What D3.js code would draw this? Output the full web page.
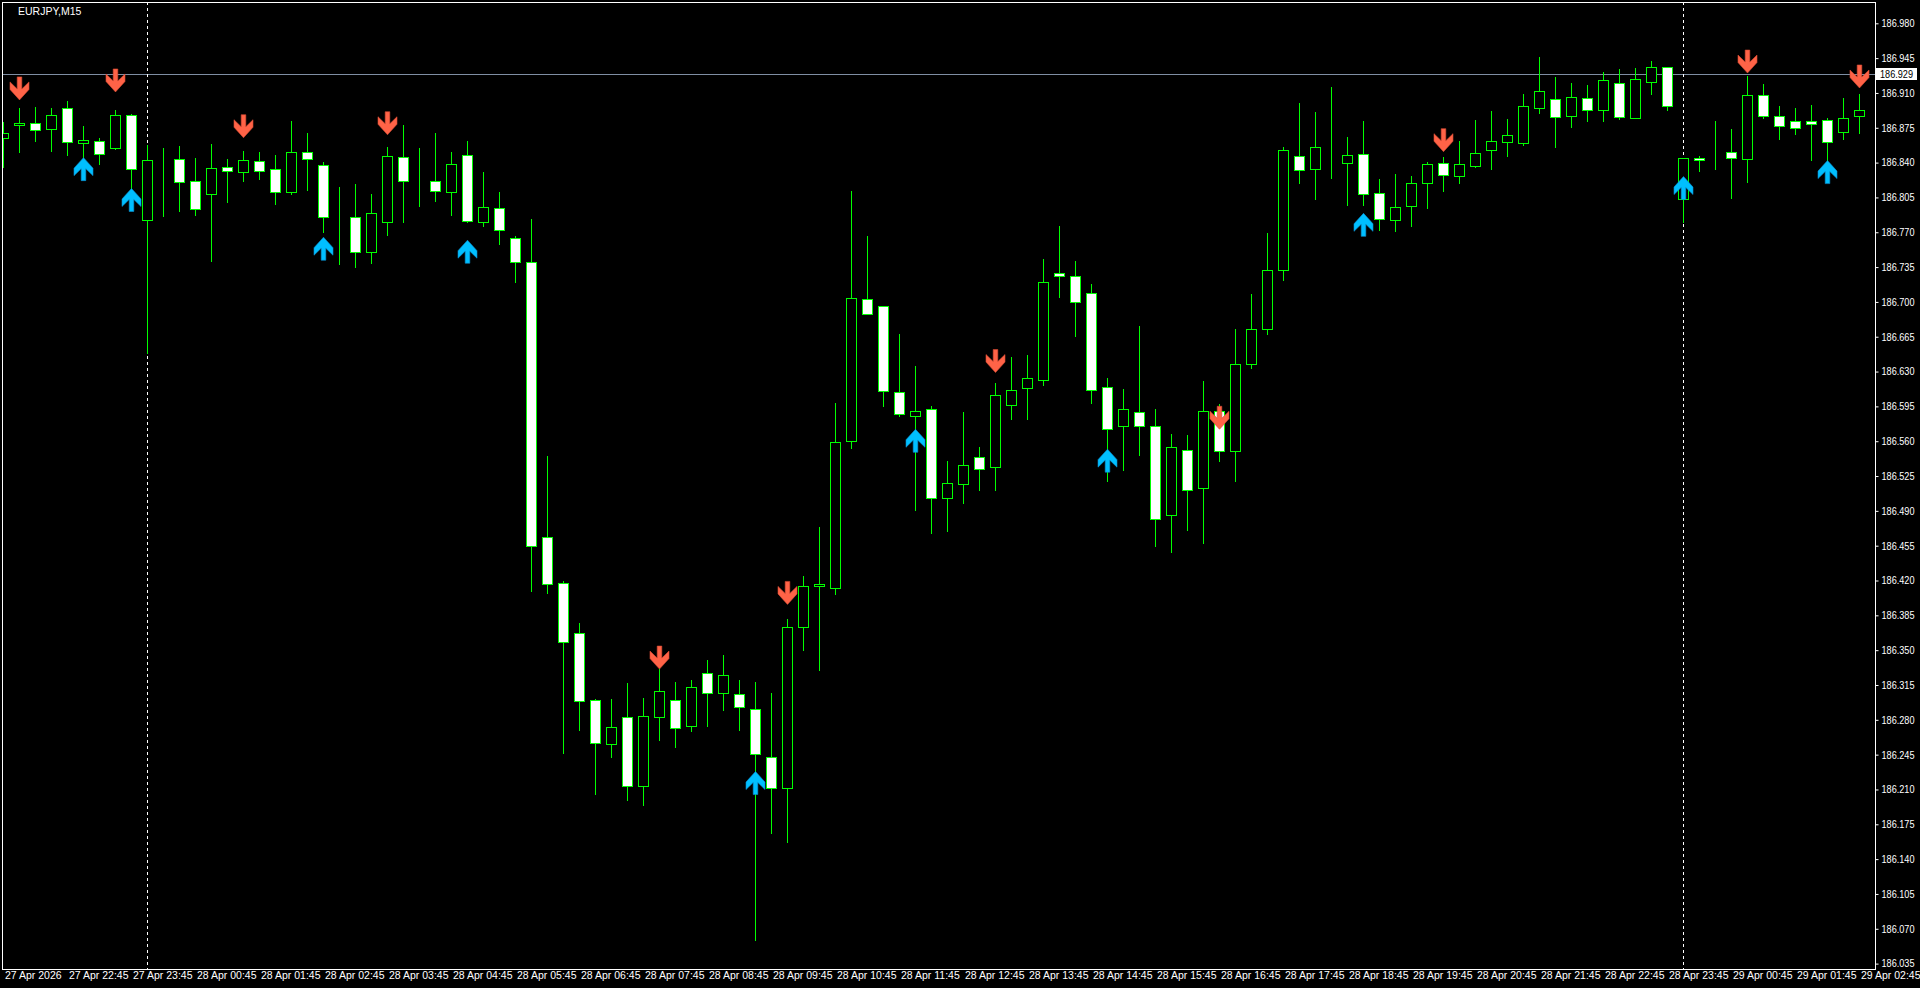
<!DOCTYPE html>
<html><head><meta charset="utf-8">
<script src="https://cdn.jsdelivr.net/npm/d3@7"></script>
<style>html,body{margin:0;padding:0;background:#000;overflow:hidden}text{font-family:"Liberation Sans",Arial,sans-serif}</style>
</head><body>
<svg id="c" width="1920" height="988"></svg>
<script>
const symbol = "EURJPY,M15";
const open = [186.865,186.878,186.880,186.874,186.895,186.860,186.862,186.855,186.888,186.782,
186.844,186.844,186.822,186.808,186.836,186.831,186.842,186.834,186.810,186.851,
186.838,186.784,186.785,186.750,186.780,186.846,186.822,186.822,186.810,186.848,
186.780,186.794,186.764,186.740,186.464,186.418,186.367,186.300,186.256,186.283,
186.213,186.283,186.300,186.274,186.327,186.307,186.306,186.291,186.243,186.211,
186.373,186.414,186.412,186.560,186.703,186.696,186.609,186.585,186.592,186.503,
186.517,186.544,186.534,186.596,186.613,186.622,186.729,186.726,186.709,186.614,
186.575,186.589,186.575,186.486,186.551,186.513,186.590,186.550,186.638,186.673,
186.732,186.847,186.834,186.843,186.840,186.849,186.809,186.782,186.796,186.820,
186.840,186.827,186.837,186.853,186.861,186.860,186.895,186.904,186.887,186.905,
186.893,186.920,186.885,186.921,186.936,186.803,186.845,186.851,186.851,186.844,
186.908,186.887,186.882,186.882,186.883,186.871,186.887];
const high = [186.881,186.895,186.896,186.895,186.902,186.877,186.865,186.893,186.889,186.858,
186.855,186.857,186.845,186.859,186.844,186.852,186.851,186.848,186.882,186.870,
186.841,186.815,186.818,186.808,186.856,186.878,186.855,186.870,186.851,186.862,
186.831,186.810,186.766,186.783,186.545,186.420,186.377,186.301,186.301,186.317,
186.302,186.331,186.318,186.320,186.340,186.345,186.320,186.318,186.307,186.381,
186.425,186.474,186.598,186.811,186.766,186.696,186.668,186.636,186.595,186.540,
186.589,186.554,186.618,186.645,186.647,186.743,186.776,186.741,186.718,186.624,
186.612,186.676,186.592,186.567,186.566,186.621,186.597,186.673,186.708,186.769,
186.856,186.900,186.891,186.916,186.866,186.882,186.824,186.829,186.827,186.841,
186.846,186.862,186.883,186.892,186.884,186.909,186.946,186.926,186.920,186.918,
186.931,186.934,186.935,186.942,186.936,186.845,186.847,186.882,186.874,186.927,
186.919,186.897,186.895,186.898,186.885,186.905,186.909];
const low = [186.836,186.851,186.862,186.852,186.848,186.836,186.839,186.854,186.810,186.649,
186.786,186.791,186.787,186.741,186.800,186.822,186.824,186.798,186.808,186.812,
186.770,186.738,186.735,186.739,186.767,186.780,186.796,186.801,186.787,186.780,
186.776,186.758,186.720,186.409,186.407,186.247,186.270,186.205,186.243,186.199,
186.194,186.260,186.253,186.269,186.274,186.290,186.270,186.059,186.166,186.157,
186.350,186.330,186.406,186.553,186.688,186.595,186.585,186.491,186.468,186.470,
186.498,186.511,186.511,186.582,186.582,186.616,186.705,186.666,186.598,186.520,
186.531,186.546,186.455,186.449,186.471,186.458,186.540,186.520,186.634,186.668,
186.722,186.820,186.803,186.825,186.797,186.797,186.772,186.771,186.776,186.794,
186.811,186.819,186.836,186.834,186.847,186.858,186.890,186.856,186.876,186.882,
186.882,186.884,186.885,186.909,186.893,186.780,186.832,186.834,186.804,186.821,
186.885,186.864,186.869,186.843,186.842,186.864,186.870];
const close = [186.870,186.880,186.873,186.888,186.861,186.863,186.849,186.888,186.834,186.843,
186.844,186.821,186.793,186.835,186.832,186.843,186.832,186.810,186.851,186.844,
186.785,186.784,186.750,186.789,186.847,186.822,186.822,186.811,186.839,186.781,
186.795,186.772,186.740,186.455,186.416,186.358,186.299,186.257,186.273,186.213,
186.284,186.309,186.272,186.313,186.307,186.325,186.293,186.246,186.211,186.373,
186.414,186.416,186.559,186.704,186.688,186.610,186.587,186.590,186.503,186.518,
186.536,186.532,186.606,186.611,186.624,186.720,186.726,186.700,186.611,186.572,
186.592,186.575,186.482,186.554,186.511,186.590,186.550,186.638,186.673,186.732,
186.853,186.833,186.856,186.843,186.848,186.808,186.783,186.795,186.820,186.839,
186.828,186.839,186.850,186.862,186.868,186.897,186.912,186.886,186.906,186.893,
186.923,186.886,186.924,186.936,186.897,186.845,186.843,186.851,186.845,186.908,
186.887,186.877,186.875,186.879,186.861,186.885,186.893];
const sellIdx = [1,7,15,24,41,49,62,76,90,109,116];
const sellPrice = [186.903,186.911,186.865,186.868,186.331,186.396,186.629,186.572,186.851,186.930,186.915];
const buyIdx = [5,8,20,29,47,57,69,85,105,114];
const buyPrice = [186.845,186.814,186.765,186.762,186.228,186.572,186.552,186.789,186.826,186.842];
const separatorIdx = [9,105];
const currentPrice = 186.929;
const priceTicks = [186.980,186.945,186.910,186.875,186.840,186.805,186.770,186.735,186.700,186.665,
186.630,186.595,186.560,186.525,186.490,186.455,186.420,186.385,186.350,186.315,186.280,186.245,
186.210,186.175,186.140,186.105,186.070,186.035];
const timeTickIdx = [0,4,8,12,16,20,24,28,32,36,40,44,48,52,56,60,64,68,72,76,80,84,88,92,96,100,104,108,112,116];
const timeTickText = ["27 Apr 2026","27 Apr 22:45","27 Apr 23:45","28 Apr 00:45","28 Apr 01:45","28 Apr 02:45",
"28 Apr 03:45","28 Apr 04:45","28 Apr 05:45","28 Apr 06:45","28 Apr 07:45","28 Apr 08:45","28 Apr 09:45",
"28 Apr 10:45","28 Apr 11:45","28 Apr 12:45","28 Apr 13:45","28 Apr 14:45","28 Apr 15:45","28 Apr 16:45",
"28 Apr 17:45","28 Apr 18:45","28 Apr 19:45","28 Apr 20:45","28 Apr 21:45","28 Apr 22:45","28 Apr 23:45",
"29 Apr 00:45","29 Apr 01:45","29 Apr 02:45"];

const L = 2, T = 2, R = 1875, B = 969;
const svg = d3.select("#c");
svg.append("rect").attr("width",1920).attr("height",988).attr("fill","#000");

const x = d3.scaleLinear().domain([0, 116]).range([3.5, 1859.5]);
const y = d3.scaleLinear().domain([186.035, 186.980]).range([963.6, 23.3]);
const ry = v => Math.round(y(v));

svg.append("clipPath").attr("id","clip").append("rect")
  .attr("x", L+1).attr("y", T+1).attr("width", R-L-1).attr("height", B-T-1);

const plot = svg.append("g").attr("clip-path","url(#clip)").attr("shape-rendering","crispEdges");

// current price line
plot.append("line").attr("x1",L).attr("x2",R)
  .attr("y1", ry(currentPrice)+0.5).attr("y2", ry(currentPrice)+0.5)
  .attr("stroke","#7f8ea3").attr("stroke-width",1);

// separators
plot.selectAll("line.sep").data(separatorIdx).join("line").attr("class","sep")
  .attr("x1", d=>Math.floor(x(d))+0.5).attr("x2", d=>Math.floor(x(d))+0.5)
  .attr("y1", T).attr("y2", B)
  .attr("stroke","#fff").attr("stroke-width",1).attr("stroke-dasharray","3,3");

const idx = d3.range(open.length);
const cg = plot.append("g");
cg.selectAll("line.wick").data(idx).join("line").attr("class","wick")
  .attr("x1", i=>Math.floor(x(i))+0.5).attr("x2", i=>Math.floor(x(i))+0.5)
  .attr("y1", i=>ry(high[i])).attr("y2", i=>ry(low[i])+1)
  .attr("stroke","#00ff00").attr("stroke-width",1);
cg.selectAll("rect.body").data(idx).join("rect").attr("class","body")
  .attr("x", i=>Math.floor(x(i))-4.5).attr("width",10)
  .attr("y", i=>ry(Math.max(open[i],close[i]))+0.5)
  .attr("height", i=>ry(Math.min(open[i],close[i]))-ry(Math.max(open[i],close[i])))
  .attr("fill", i=> close[i] < open[i] ? "#ffffff" : "#000000")
  .attr("stroke","#00ff00").attr("stroke-width",1);

// arrows
const downPts = [[-2.3,0],[2.3,0],[2.3,12],[9.5,5],[9.5,12.5],[0,23],[-9.5,12.5],[-9.5,5],[-2.3,12]];
const ag = svg.append("g");
ag.selectAll("path.sell").data(sellIdx).join("path").attr("class","sell")
  .attr("d", (d,k)=>{ const cx=Math.floor(x(d))+0.5, ty=y(sellPrice[k]);
     return "M"+downPts.map(p=>[cx+p[0], ty-23+p[1]].join(",")).join("L")+"Z"; })
  .attr("fill","#ff6347").attr("stroke","#d94a33").attr("stroke-width",0.6);
ag.selectAll("path.buy").data(buyIdx).join("path").attr("class","buy")
  .attr("d", (d,k)=>{ const cx=Math.floor(x(d))+0.5, ty=y(buyPrice[k]);
     return "M"+downPts.map(p=>[cx+p[0], ty+23-p[1]].join(",")).join("L")+"Z"; })
  .attr("fill","#00bfff").attr("stroke","#0a8fd0").attr("stroke-width",0.6);

// frame
svg.append("rect").attr("x",L+0.5).attr("y",T+0.5).attr("width",R-L).attr("height",B-T)
  .attr("fill","none").attr("stroke","#fff").attr("stroke-width",1).attr("shape-rendering","crispEdges");

// price axis
const ya = svg.append("g").attr("transform",`translate(${R+0.5},0)`)
  .call(d3.axisRight(y).tickValues(priceTicks).tickFormat(d3.format(".3f")).tickSize(3).tickPadding(3));
ya.select(".domain").remove();
ya.selectAll(".tick line").attr("stroke","#fff");
ya.selectAll(".tick text").attr("fill","#fff").attr("font-size","10.5px")
  .attr("textLength",33).attr("lengthAdjust","spacingAndGlyphs");

// current price label
const cpY = ry(currentPrice);
svg.append("rect").attr("x",R+1).attr("y",cpY-6).attr("width",41).attr("height",12).attr("fill","#fff");
svg.append("text").attr("x",R+5).attr("y",cpY+4).attr("fill","#000").attr("font-size","10.5px")
  .attr("textLength",33).attr("lengthAdjust","spacingAndGlyphs").text(d3.format(".3f")(currentPrice));

// time axis
const xa = svg.append("g").attr("transform",`translate(0,${B+0.5})`)
  .call(d3.axisBottom(x).tickValues(timeTickIdx).tickFormat((d,k)=>timeTickText[k]).tickSize(0).tickPadding(3));
xa.select(".domain").remove();
xa.selectAll(".tick text").attr("fill","#fff").attr("font-size","10.5px").attr("text-anchor","start")
  .attr("dx", 1).attr("dy","0.6em");

// title
svg.append("text").attr("x",18).attr("y",15).attr("fill","#fff").attr("font-size","10.5px").text(symbol);
</script>
</body></html>
